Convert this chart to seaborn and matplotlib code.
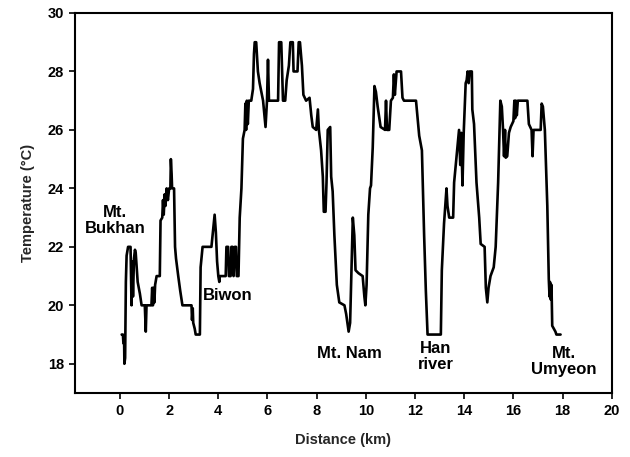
import matplotlib
matplotlib.use("Agg")
import matplotlib.pyplot as plt
import seaborn as sns
import pandas as pd

# ---- data ----
distance_km = [
    0.07, 0.12, 0.14, 0.17, 0.18, 0.21, 0.24, 0.27, 0.33, 0.43, 0.45, 0.47, 0.50, 0.53, 0.57,
    0.61, 0.64, 0.72, 0.81, 0.88, 1.01, 1.05, 1.08, 1.28, 1.31, 1.34, 1.37, 1.40, 1.43, 1.49,
    1.62, 1.65, 1.72, 1.75, 1.78, 1.82, 1.85, 1.90, 1.95, 2.00, 2.05, 2.07, 2.10, 2.12, 2.20,
    2.24, 2.28, 2.37, 2.45, 2.54, 2.91, 2.93, 2.96, 2.98, 3.04, 3.08, 3.25, 3.28, 3.36, 3.72,
    3.78, 3.85, 3.90, 3.95, 4.00, 4.04, 4.06, 4.30, 4.33, 4.40, 4.43, 4.50, 4.53, 4.58, 4.62,
    4.67, 4.72, 4.75, 4.82,
    4.87, 4.94, 5.00, 5.07, 5.10, 5.13, 5.16, 5.20, 5.24, 5.34, 5.41, 5.45, 5.48, 5.54, 5.61,
    5.68, 5.75, 5.82, 5.92, 5.98, 6.02, 6.06, 6.43, 6.47, 6.56, 6.63, 6.72, 6.78, 6.87, 6.93,
    7.03, 7.06, 7.22, 7.27, 7.32, 7.40, 7.46, 7.57, 7.71,
    7.78, 7.84, 7.98, 8.05, 8.09, 8.18, 8.25, 8.29, 8.36, 8.40, 8.45, 8.55, 8.59, 8.65, 8.72,
    8.82, 8.92, 9.13, 9.20, 9.30, 9.36, 9.47, 9.53, 9.58, 9.70, 9.87, 9.94, 9.98, 10.03, 10.10,
    10.17, 10.21, 10.28, 10.35, 10.41, 10.48, 10.60, 10.78, 10.82, 10.86, 10.95, 11.02, 11.10,
    11.14, 11.18, 11.25, 11.43, 11.49, 11.55,
    12.04, 12.17, 12.28, 12.37, 12.44, 12.51, 13.05, 13.09, 13.18, 13.28, 13.32, 13.39, 13.55,
    13.59, 13.69, 13.79, 13.84, 13.88, 13.93, 13.98, 14.06, 14.10, 14.14, 14.18, 14.22, 14.31,
    14.33, 14.40, 14.50, 14.61, 14.67, 14.83, 14.88, 14.94, 14.99, 15.07, 15.20, 15.28, 15.38,
    15.47,
    15.53, 15.58, 15.62, 15.66, 15.69, 15.75, 15.82, 15.89, 16.00, 16.04, 16.07, 16.10, 16.14,
    16.18, 16.57, 16.63, 16.74, 16.78, 16.82, 17.11, 17.15, 17.20, 17.28, 17.38, 17.44, 17.47,
    17.49, 17.52, 17.55, 17.58, 17.71, 17.75, 17.92,
]
temperature_c = [
    19.0, 19.0, 18.7, 18.7, 18.0, 18.2, 20.8, 21.7, 22.0, 22.0, 21.0, 20.0, 21.5, 20.3, 21.6,
    21.9, 21.8, 20.8, 20.4, 20.0, 20.0, 19.1, 20.0, 20.0, 20.6, 20.0, 20.6, 20.1, 20.7, 21.0,
    21.0, 22.9, 23.0, 23.6, 23.1, 23.8, 23.4, 24.0, 23.6, 24.0, 24.0, 25.0, 24.5, 24.0, 24.0,
    22.0, 21.6, 21.0, 20.5, 20.0, 20.0, 19.5, 19.9, 19.4, 19.2, 19.0, 19.0, 21.3, 22.0, 22.0,
    22.5, 23.1, 22.5, 21.5, 21.0, 20.8, 21.0, 21.0, 22.0, 22.0, 21.0, 21.0, 22.0, 22.0, 21.0,
    22.0, 22.0, 21.0, 21.0,
    23.0, 24.0, 25.7, 26.0, 26.9, 26.0, 27.0, 26.2, 27.0, 27.0, 27.4, 28.6, 29.0, 29.0, 28.0,
    27.6, 27.3, 27.0, 26.1, 27.0, 28.4, 27.0, 27.0, 29.0, 29.0, 27.0, 27.0, 27.7, 28.2, 29.0,
    29.0, 28.0, 28.0, 29.0, 29.0, 28.2, 27.2, 27.0, 27.1,
    26.5, 26.1, 26.0, 26.7, 26.0, 25.3, 24.4, 23.2, 23.2, 24.2, 26.0, 26.1, 24.4, 23.9, 22.4,
    20.7, 20.1, 20.0, 19.7, 19.1, 19.4, 23.0, 22.4, 21.2, 21.1, 21.0, 20.3, 20.0, 20.7, 23.1,
    24.0, 24.1, 25.4, 27.5, 27.3, 26.8, 26.1, 26.0, 27.0, 26.0, 26.0, 27.0, 27.1,
    27.9, 27.2, 28.0, 28.0, 27.1, 27.0,
    27.0, 25.8, 25.3, 22.4, 20.5, 19.0, 19.0, 21.2, 22.8, 24.0, 23.4, 23.0, 23.0,
    24.2, 25.1, 26.0, 24.8, 25.9, 24.1, 25.9, 27.6, 27.7, 28.0, 27.6, 28.0, 28.0,
    26.7, 26.2, 24.2, 23.0, 22.1, 22.0, 20.6, 20.1, 20.6, 21.0, 21.3, 22.0, 24.2,
    27.0,
    26.8, 26.0, 25.1, 26.0, 25.05, 25.1, 25.9, 26.1, 26.3, 27.0, 26.4, 27.0, 26.5,
    27.0, 27.0, 26.2, 26.0, 25.1, 26.0, 26.0, 26.9, 26.8, 26.0, 23.4, 20.9, 20.3,
    20.8, 20.2, 20.7, 19.3, 19.1, 19.0, 19.0,
]
place_names = ["Mt.\nBukhan", "Biwon", "Mt. Nam", "Han\nriver", "Mt.\nUmyeon"]
place_x = [-0.2, 4.4, 9.35, 12.85, 18.05]
place_y = [22.9, 20.35, 18.34, 18.24, 18.08]
x_ticks = [0, 2, 4, 6, 8, 10, 12, 14, 16, 18, 20]
y_ticks = [18, 20, 22, 24, 26, 28, 30]

# ---- plotting ----
sns.set_theme(style="ticks")
plt.rcParams["font.family"] = ["Liberation Sans", "DejaVu Sans"]
plt.rcParams["font.weight"] = "bold"

df = pd.DataFrame({"distance": distance_km, "temperature": temperature_c})

fig, ax = plt.subplots(figsize=(6.3, 4.57), dpi=100)
fig.subplots_adjust(left=0.119, right=0.971, top=0.9716, bottom=0.14)

sns.lineplot(data=df, x="distance", y="temperature", estimator=None, sort=False,
             color="black", linewidth=1.9, ax=ax)

ax.set_xlim(-1.83, 20)
ax.set_ylim(17, 30)
ax.set_xticks(x_ticks)
ax.set_yticks(y_ticks)
ax.set_xticklabels([str(t) for t in x_ticks], fontsize=10.5, fontweight="bold")
ax.set_yticklabels([str(t) for t in y_ticks], fontsize=10.5, fontweight="bold")
ax.tick_params(axis="both", direction="out", length=4, width=1.2, pad=4, colors="black")

ax.set_xlabel("Distance (km)", fontsize=10.5, fontweight="bold", labelpad=11)
ax.set_ylabel("Temperature (\u00b0C)", fontsize=10.5, fontweight="bold", labelpad=9)

for side in ["left", "bottom", "top", "right"]:
    ax.spines[side].set_visible(True)
    ax.spines[side].set_color("black")
    ax.spines[side].set_linewidth(1.5)

for name, px, py in zip(place_names, place_x, place_y):
    ax.text(px, py, name, ha="center", va="center", fontsize=12,
            fontweight="bold", color="black", linespacing=1.05)

fig.savefig("out.png", dpi=100, facecolor="white")
